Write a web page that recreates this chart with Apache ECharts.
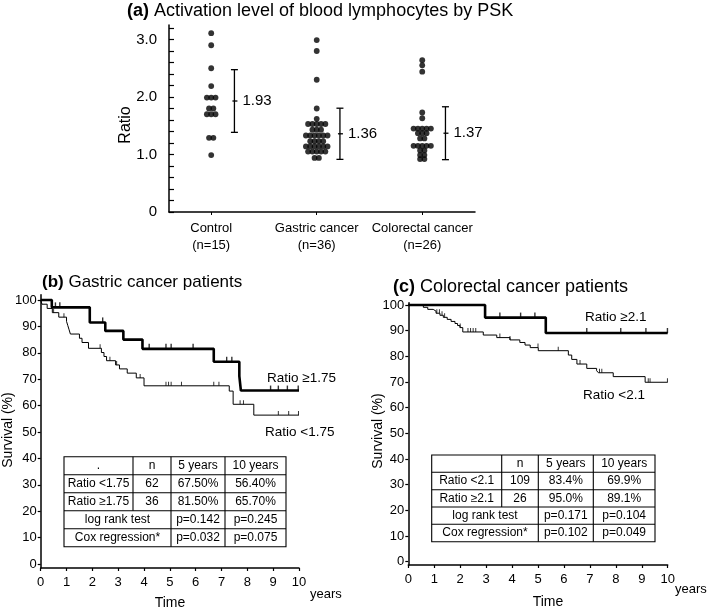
<!DOCTYPE html>
<html><head><meta charset="utf-8">
<script src="https://cdn.jsdelivr.net/npm/echarts@6/dist/echarts.min.js"></script>
<style>html,body{margin:0;padding:0;background:#fff}#c{width:709px;height:610px}</style>
</head><body><div id="c"></div>
<script>
// ---------------- DATA ----------------
const groupNames = ['Control', 'Gastric cancer', 'Colorectal cancer'];
const groupN = ['(n=15)', '(n=36)', '(n=26)'];
const controlRatios = [3.11, 2.9, 2.5, 2.19, 1.99, 1.99, 1.99, 1.8, 1.8, 1.7, 1.7, 1.7, 1.29, 1.29, 0.99];
const gastricRatios = [2.99, 2.8, 2.3, 1.8, 1.62,
  1.53, 1.53, 1.53, 1.53, 1.53,
  1.43, 1.43, 1.43,
  1.33, 1.33, 1.33, 1.33, 1.33, 1.33,
  1.23, 1.23, 1.23, 1.23,
  1.14, 1.14, 1.14, 1.14, 1.14, 1.14,
  1.05, 1.05, 1.05, 1.05, 1.05,
  0.94, 0.94];
const colorectalRatios = [2.64, 2.55, 2.44, 1.73, 1.63,
  1.45, 1.45, 1.45, 1.45, 1.45,
  1.37, 1.37, 1.37,
  1.28, 1.28,
  1.15, 1.15, 1.15, 1.15, 1.15,
  1.07, 1.07,
  0.99, 0.99,
  0.92, 0.92];
const groupMeans = [1.93, 1.36, 1.37];
const groupSD = [0.545, 0.445, 0.46];
const ratioLabelValues = [0, 1, 2, 3];

// (b) Gastric cancer patients
const gHighT = [0, 0.43, 1.9, 2.5, 3.2, 3.94, 6.7, 7.69, 7.75, 10];
const gHighS = [100, 97.2, 91.5, 88.3, 85.0, 81.5, 76.6, 71.2, 65.7, 65.7];
const gHighCens = [0.57, 0.74, 2.4, 4.2, 4.85, 5.05, 5.9, 7.2, 7.4, 8.9, 9.2, 9.55, 9.97];
const gLowT = [0, 0.05, 0.25, 0.45, 0.7, 1.0, 1.05, 1.1, 1.15, 1.5, 1.6, 1.85, 2.35, 2.45, 2.55, 2.9, 3.05, 3.35, 3.7, 4.0, 7.3, 7.45, 8.25, 10];
const gLowS = [100, 98.4, 96.8, 95.2, 93.5, 91.9, 90.3, 88.7, 87.1, 85.5, 83.9, 81.7, 80.1, 78.6, 77.0, 75.4, 73.9, 72.3, 70.5, 67.5, 65.5, 60.5, 56.4, 56.4];
const gLowCens = [0.5, 0.9, 2.3, 2.68, 2.94, 3.85, 4.85, 4.95, 5.05, 5.45, 6.7, 6.9, 7.72, 7.85, 9.2, 9.6, 9.98];

// (c) Colorectal cancer patients
const cHighT = [0, 2.96, 5.3, 10];
const cHighS = [100, 95.1, 89.1, 89.1];
const cHighCens = [3.53, 4.33, 4.88, 6.88, 8.19, 9.16, 9.99];
const cLowT = [0, 0.58, 0.75, 0.96, 1.07, 1.22, 1.35, 1.5, 1.65, 1.8, 1.9, 1.99, 2.1, 2.89, 3.41, 3.92, 4.3, 4.5, 4.7, 5.01, 6.17, 6.3, 6.5, 6.88, 7.26, 7.33, 7.9, 9.13, 10];
const cLowS = [100, 99.1, 98.3, 97.6, 96.8, 96.0, 95.2, 94.4, 93.6, 92.8, 92.0, 91.2, 89.5, 88.3, 87.3, 86.4, 85.4, 84.4, 83.4, 82.2, 80.5, 78.8, 77.0, 75.3, 74.4, 73.6, 72.1, 69.9, 69.9];
const cLowCens = [1.1, 1.2, 1.3, 1.4, 2.0, 2.3, 2.4, 2.5, 2.6, 3.53, 3.92, 5.0, 5.78, 6.62, 7.37, 7.46, 9.25, 9.32, 9.99];

const tableB = [
  ['.', 'n', '5 years', '10 years'],
  ['Ratio <1.75', '62', '67.50%', '56.40%'],
  ['Ratio \u22651.75', '36', '81.50%', '65.70%'],
  ['log rank test', 'p=0.142', 'p=0.245'],
  ['Cox regression*', 'p=0.032', 'p=0.075']
];
const tableC = [
  ['', 'n', '5 years', '10 years'],
  ['Ratio <2.1', '109', '83.4%', '69.9%'],
  ['Ratio \u22652.1', '26', '95.0%', '89.1%'],
  ['log rank test', 'p=0.171', 'p=0.104'],
  ['Cox regression*', 'p=0.102', 'p=0.049']
];

// ---------------- LAYOUT / HELPERS ----------------
const FONT = '"Liberation Sans", Arial, sans-serif';
const INK = '#000';

function swarm(values, center, dx) {
  const counts = {};
  values.forEach(v => { counts[v] = (counts[v] || 0) + 1; });
  const seen = {};
  return values.map(v => {
    const k = counts[v]; const i = seen[v] = (seen[v] === undefined ? 0 : seen[v] + 1);
    return [center + (i - (k - 1) / 2) * dx, v];
  });
}
function kmData(T, S) { return T.map((t, i) => [t, S[i]]); }
function survAt(T, S, t) { let s = S[0]; for (let i = 0; i < T.length; i++) if (T[i] <= t) s = S[i]; return s; }
function censData(T, S, C) { return C.map(t => [t, survAt(T, S, t)]); }

const dx = 0.041;
const dotSeries = [controlRatios, gastricRatios, colorectalRatios].map((vals, gi) => ({
  type: 'scatter', xAxisIndex: 0, yAxisIndex: 0, symbol: 'circle', symbolSize: 5.8,
  itemStyle: { color: INK }, data: swarm(vals, gi, dx), silent: true
}));

const errSeries = {
  type: 'custom', xAxisIndex: 0, yAxisIndex: 0, silent: true,
  data: groupMeans.map((m, i) => [i, m, groupSD[i]]),
  renderItem(params, api) {
    const i = api.value(0), m = api.value(1), sd = api.value(2);
    const off = 0.22;
    const top = api.coord([i + off, m + sd]);
    const bot = api.coord([i + off, m - sd]);
    const mid = api.coord([i + off, m]);
    const cap = 3.5, st = { stroke: INK, lineWidth: 1.3 };
    return { type: 'group', children: [
      { type: 'line', shape: { x1: top[0], y1: top[1], x2: bot[0], y2: bot[1] }, style: st },
      { type: 'line', shape: { x1: top[0] - cap, y1: top[1], x2: top[0] + cap, y2: top[1] }, style: st },
      { type: 'line', shape: { x1: bot[0] - cap, y1: bot[1], x2: bot[0] + cap, y2: bot[1] }, style: st },
      { type: 'line', shape: { x1: mid[0] - 2, y1: mid[1], x2: mid[0] + 3, y2: mid[1] }, style: st },
      { type: 'text', x: mid[0] + 8, y: mid[1], style: { text: m.toFixed(2), font: '15px ' + FONT, fill: INK, verticalAlign: 'middle', align: 'left' } }
    ] };
  }
};

function kmLine(xi, T, S, w) {
  return { type: 'line', xAxisIndex: xi, yAxisIndex: xi, step: 'end', symbol: 'none', silent: true,
    lineStyle: { color: INK, width: w }, data: kmData(T, S) };
}
function kmCens(xi, T, S, C, w, h) {
  return { type: 'scatter', xAxisIndex: xi, yAxisIndex: xi, symbol: 'rect', symbolSize: [w, h],
    symbolOffset: [0, -h / 2], silent: true, itemStyle: { color: INK }, data: censData(T, S, C) };
}

const axLine = { show: true, onZero: false, lineStyle: { color: INK, width: 1.5 } };
const pctTicks = [0, 10, 20, 30, 40, 50, 60, 70, 80, 90, 100];
const ratioTicks = Array.from({ length: 17 }, (_, k) => Math.round(k * 2) / 10);

function kmX(gi) {
  return { gridIndex: gi, type: 'value', min: 0, max: 10, interval: 1, axisLine: axLine,
    axisTick: { show: true, length: 3, lineStyle: { color: INK, width: 1.2 } },
    axisLabel: { color: INK, fontSize: 13, fontFamily: FONT, margin: 8 }, splitLine: { show: false } };
}
function kmY(gi, mn, mx, margin) {
  return { gridIndex: gi, type: 'value', min: mn, max: mx, axisLine: axLine,
    axisTick: { show: true, length: 3, customValues: pctTicks, lineStyle: { color: INK, width: 1.2 } },
    axisLabel: { customValues: pctTicks, color: INK, fontSize: 13, fontFamily: FONT, margin: margin },
    splitLine: { show: false } };
}

function txt(x, y, text, size, opts) {
  return Object.assign({ type: 'text', x: x, y: y, silent: true,
    style: Object.assign({ text: text, font: size + 'px ' + FONT, fill: INK, verticalAlign: 'middle', align: 'left' }, (opts && opts.style) || {}) },
    (opts && opts.el) || {});
}
function ln(x1, y1, x2, y2) {
  return { type: 'line', silent: true, shape: { x1, y1, x2, y2 }, style: { stroke: INK, lineWidth: 1.1 } };
}
function tableEls(cols, rows, cells, fs) {
  const els = [];
  const x0 = cols[0], x1 = cols[4], y0 = rows[0], y1 = rows[5];
  els.push({ type: 'rect', silent: true, shape: { x: x0, y: y0, width: x1 - x0, height: y1 - y0 }, style: { fill: '#fff', stroke: INK, lineWidth: 1.1 } });
  for (let r = 1; r < 5; r++) els.push(ln(x0, rows[r], x1, rows[r]));
  els.push(ln(cols[1], y0, cols[1], rows[3]));
  els.push(ln(cols[2], y0, cols[2], y1));
  els.push(ln(cols[3], y0, cols[3], y1));
  cells.forEach((row, r) => {
    const cy = (rows[r] + rows[r + 1]) / 2;
    const spans = row.length === 4 ? [[0, 1], [1, 2], [2, 3], [3, 4]] : [[0, 2], [2, 3], [3, 4]];
    row.forEach((t, c) => {
      const cx = (cols[spans[c][0]] + cols[spans[c][1]]) / 2;
      els.push(txt(cx, cy, t, fs, { style: { align: 'center' } }));
    });
  });
  return els;
}
const boldRich = sz => ({ b: { fontWeight: 'bold', fontSize: sz, fontFamily: FONT, fill: INK } });

const graphics = [].concat(
  [
    txt(127, 11, '{b|(a)} Activation level of blood lymphocytes by PSK', 18, { style: { rich: boldRich(18) } }),
    txt(126, 125, 'Ratio', 16, { style: { align: 'center' }, el: { rotation: Math.PI / 2 } }),
    txt(42, 282, '{b|(b)} Gastric cancer patients', 17, { style: { rich: boldRich(17) } }),
    txt(8, 430, 'Survival (%)', 14, { style: { align: 'center' }, el: { rotation: Math.PI / 2 } }),
    txt(310, 594, 'years', 13),
    txt(170, 603, 'Time', 14, { style: { align: 'center' } }),
    txt(267, 378, 'Ratio \u22651.75', 13.5),
    txt(265, 432, 'Ratio <1.75', 13.5),
    txt(393, 287, '{b|(c)} Colorectal cancer patients', 18, { style: { rich: boldRich(18) } }),
    txt(378, 431, 'Survival (%)', 14, { style: { align: 'center' }, el: { rotation: Math.PI / 2 } }),
    txt(675, 589, 'years', 13),
    txt(548, 602, 'Time', 14, { style: { align: 'center' } }),
    txt(585, 317, 'Ratio \u22652.1', 13.5),
    txt(583, 395, 'Ratio <2.1', 13.5)
  ],
  tableEls([64, 133, 171, 225, 286], [456.7, 474.7, 492.7, 510.7, 528.7, 546.7], tableB, 12),
  tableEls([431.7, 501.7, 538.3, 593.3, 655], [455, 472.3, 489.7, 507, 524.3, 541.7], tableC, 12)
);

const chart = echarts.init(document.getElementById('c'), null, { renderer: 'canvas' });
chart.setOption({
  animation: false,
  backgroundColor: '#fff',
  textStyle: { fontFamily: FONT },
  grid: [
    { left: 169, top: 25.1, width: 306, height: 186.9 },
    { left: 40.7, top: 294.7, width: 258.3, height: 273.3 },
    { left: 408.3, top: 302.7, width: 259.4, height: 262.3 }
  ],
  xAxis: [
    { gridIndex: 0, type: 'value', min: -0.4, max: 2.5, axisLine: axLine,
      axisTick: { show: true, length: 3, customValues: [0, 1, 2], lineStyle: { color: INK } },
      axisLabel: { customValues: [0, 1, 2], formatter: v => groupNames[Math.round(v)] + '\n' + groupN[Math.round(v)],
        color: INK, fontSize: 13, lineHeight: 17, fontFamily: FONT, margin: 8 },
      splitLine: { show: false } },
    kmX(1), kmX(2)
  ],
  yAxis: [
    { gridIndex: 0, type: 'value', min: 0, max: 3.25, axisLine: axLine,
      axisTick: { show: true, inside: true, length: 5, customValues: ratioTicks, lineStyle: { color: INK, width: 1.2 } },
      axisLabel: { customValues: ratioLabelValues, formatter: v => (v === 0 ? '0' : v.toFixed(1)),
        color: INK, fontSize: 15, fontFamily: FONT, margin: 12 },
      splitLine: { show: false } },
    kmY(1, -1.5, 102, 4), kmY(2, -1.3, 100.9, 4)
  ],
  series: [].concat(dotSeries, [errSeries,
    kmLine(1, gLowT, gLowS, 1), kmLine(1, gHighT, gHighS, 2.6),
    kmCens(1, gLowT, gLowS, gLowCens, 1, 4), kmCens(1, gHighT, gHighS, gHighCens, 1.4, 5),
    kmLine(2, cLowT, cLowS, 1), kmLine(2, cHighT, cHighS, 2.6),
    kmCens(2, cLowT, cLowS, cLowCens, 1, 4), kmCens(2, cHighT, cHighS, cHighCens, 1.4, 5)
  ]),
  graphic: { elements: graphics }
});
</script>
</body></html>
